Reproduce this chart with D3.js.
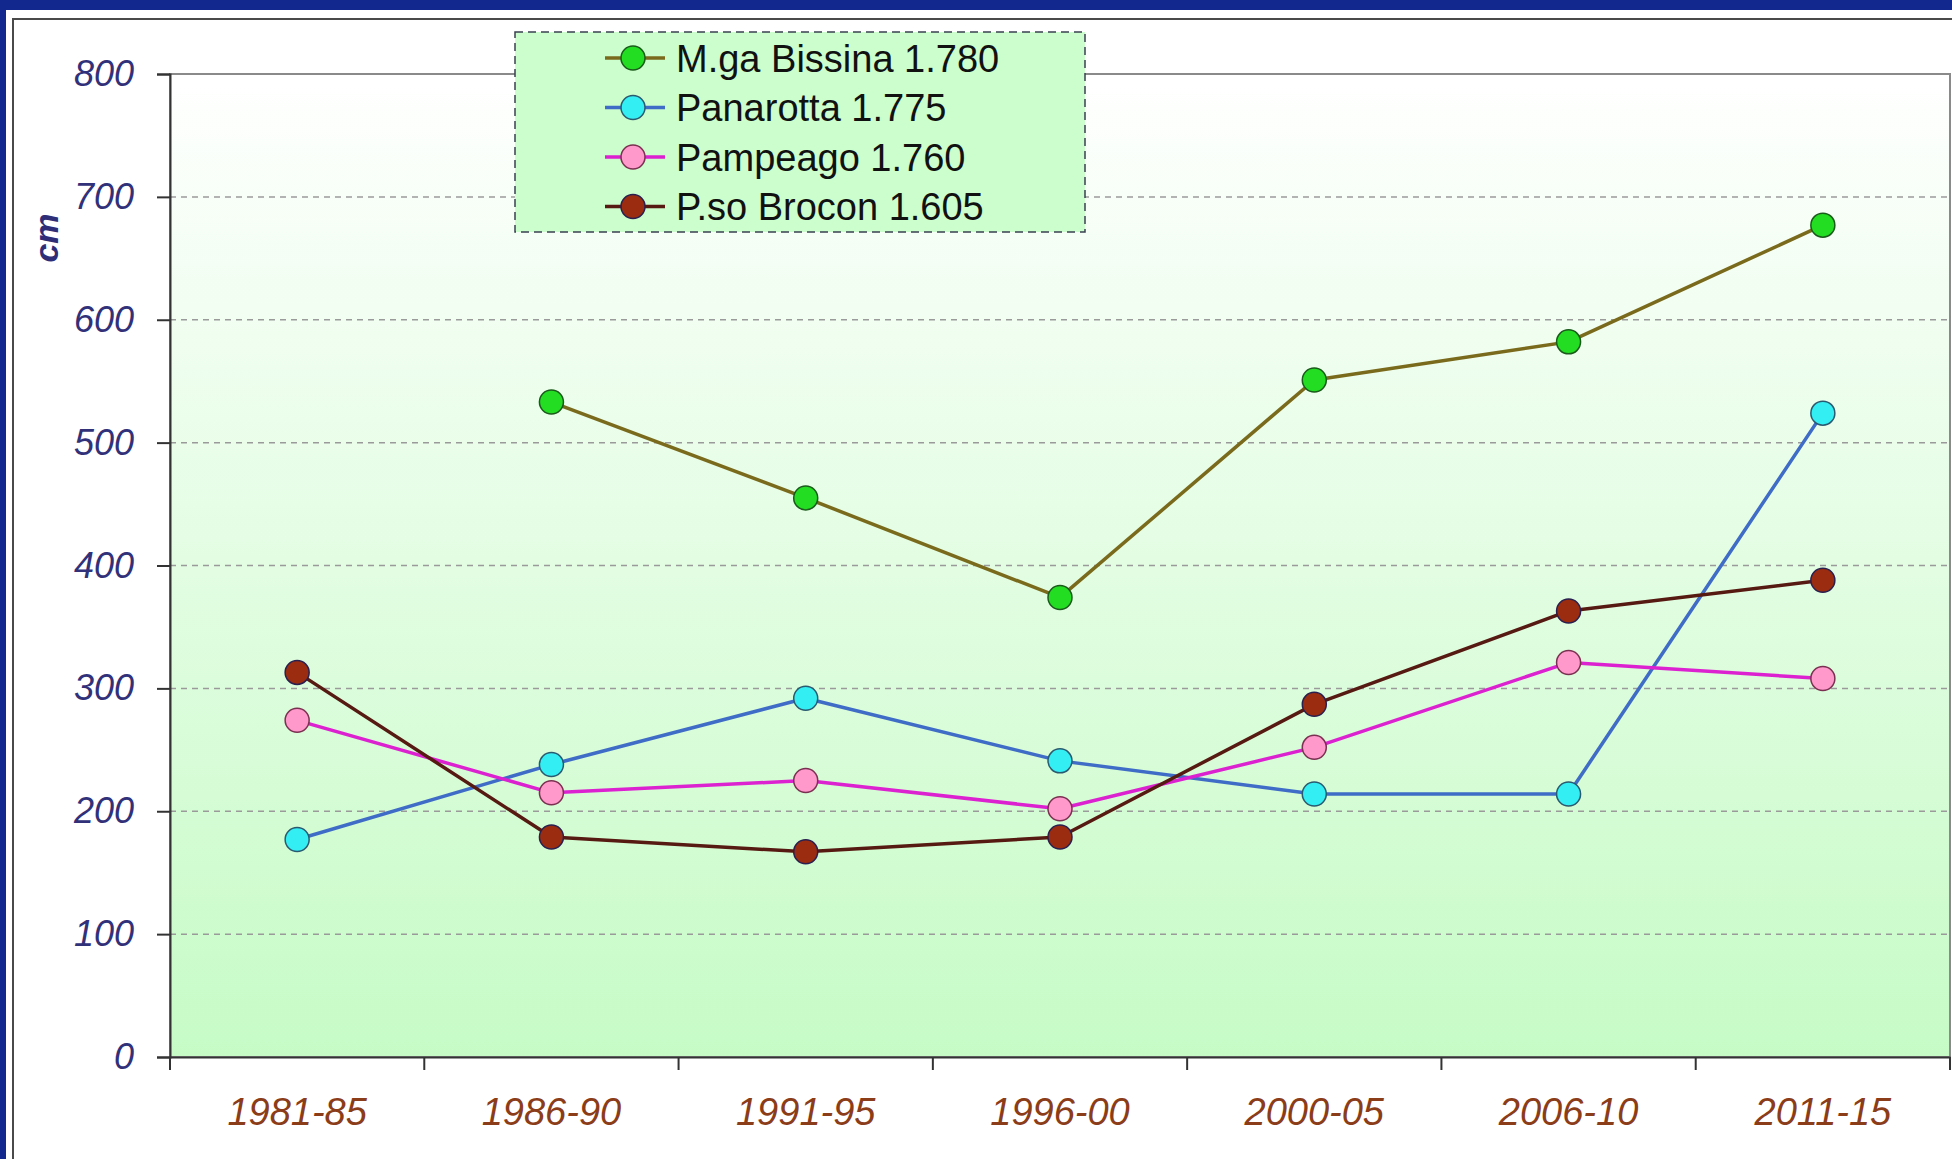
<!DOCTYPE html>
<html>
<head>
<meta charset="utf-8">
<script src="https://cdn.jsdelivr.net/npm/d3@7"></script>
<style>
  html, body { margin: 0; padding: 0; background: #ffffff; }
  svg { display: block; }
</style>
</head>
<body>
<div id="graphic"></div>
<script>
'use strict';

const periods = ['1981-85', '1986-90', '1991-95', '1996-00', '2000-05', '2006-10', '2011-15'];
const seriesNames = ['M.ga Bissina 1.780', 'Panarotta 1.775', 'Pampeago 1.760', 'P.so Brocon 1.605'];
const bissina = [null, 533, 455, 374, 551, 582, 677];
const panarotta = [177, 238, 292, 241, 214, 214, 524];
const pampeago = [274, 215, 225, 202, 252, 321, 308];
const brocon = [313, 179, 167, 179, 287, 363, 388];
const yTicks = [0, 100, 200, 300, 400, 500, 600, 700, 800];

const lineColors = ['#7a6a1c', '#3f6cc6', '#dc22d0', '#561a12'];
const markerColors = ['#22dd22', '#33eef2', '#ff99cc', '#9b2c10'];
const markerStrokes = ['#1a5a1a', '#2a5a70', '#7a3050', '#2a2050'];

const width = 1952;
const height = 1159;
const margin = { left: 170, right: 2, top: 74, bottom: 102 };

const svg = d3
  .select('#graphic')
  .append('svg')
  .attr('width', width)
  .attr('height', height)
  .attr('font-family', 'Liberation Sans, Arial, sans-serif');

// blue slide border + chart frame
svg.append('rect').attr('x', 0).attr('y', 0).attr('width', width).attr('height', 10).attr('fill', '#13288e');
svg.append('rect').attr('x', 0).attr('y', 0).attr('width', 6).attr('height', height).attr('fill', '#13288e');
svg
  .append('path')
  .attr('d', `M13,${height}V19H${width}`)
  .attr('fill', 'none')
  .attr('stroke', '#4a4a4a')
  .attr('stroke-width', 2);

const x = d3.scaleBand().domain(periods).range([margin.left, width - margin.right]).padding(0);
const y = d3.scaleLinear().domain([0, 800]).range([height - margin.bottom, margin.top]);

const defs = svg.append('defs');
const grad = defs
  .append('linearGradient')
  .attr('id', 'plotBg')
  .attr('x1', 0)
  .attr('y1', 0)
  .attr('x2', 0)
  .attr('y2', 1);
grad.append('stop').attr('offset', '0%').attr('stop-color', '#ffffff');
grad.append('stop').attr('offset', '100%').attr('stop-color', '#c6fbc6');

// plot area
svg
  .append('rect')
  .attr('x', x.range()[0])
  .attr('y', y(800))
  .attr('width', x.range()[1] - x.range()[0])
  .attr('height', y(0) - y(800))
  .attr('fill', 'url(#plotBg)')
  .attr('stroke', '#8a8a8a')
  .attr('stroke-width', 2);

// gridlines
svg
  .append('g')
  .selectAll('line')
  .data(yTicks.filter((d) => d > 0 && d < 800))
  .join('line')
  .attr('x1', x.range()[0])
  .attr('x2', x.range()[1])
  .attr('y1', (d) => y(d))
  .attr('y2', (d) => y(d))
  .attr('stroke', '#9a9a9a')
  .attr('stroke-width', 1.5)
  .attr('stroke-dasharray', '6,5');

// y axis
const yAxis = svg
  .append('g')
  .attr('transform', `translate(${x.range()[0]},0)`)
  .call(d3.axisLeft(y).tickValues(yTicks).tickSize(13).tickPadding(23));
yAxis.select('.domain').attr('stroke', '#333333').attr('stroke-width', 2);
yAxis.selectAll('.tick line').attr('stroke', '#333333').attr('stroke-width', 2);
yAxis
  .selectAll('.tick text')
  .attr('fill', '#31317a')
  .attr('font-size', 36)
  .attr('font-style', 'italic')
  .attr('font-family', 'Liberation Sans, Arial, sans-serif');

// x axis: labels at band centres, ticks at band edges
const xAxis = svg
  .append('g')
  .attr('transform', `translate(0,${y(0)})`)
  .call(d3.axisBottom(x).tickSize(0).tickPadding(41));
xAxis.select('.domain').attr('stroke', '#333333').attr('stroke-width', 2);
xAxis
  .selectAll('.tick text')
  .attr('fill', '#8b3c18')
  .attr('font-size', 38)
  .attr('font-style', 'italic')
  .attr('font-family', 'Liberation Sans, Arial, sans-serif');
xAxis
  .append('g')
  .selectAll('line')
  .data(periods.map((p) => x(p)).concat([x.range()[1]]))
  .join('line')
  .attr('x1', (d) => d)
  .attr('x2', (d) => d)
  .attr('y1', 0)
  .attr('y2', 13)
  .attr('stroke', '#333333')
  .attr('stroke-width', 2);

// y title
svg
  .append('text')
  .attr('transform', `translate(58,238) rotate(-90)`)
  .attr('text-anchor', 'middle')
  .attr('font-size', 34)
  .attr('font-weight', 'bold')
  .attr('font-style', 'italic')
  .attr('fill', '#2e2e78')
  .text('cm');

// series
const allSeries = [bissina, panarotta, pampeago, brocon];
const cx = (i) => x(periods[i]) + x.bandwidth() / 2;

const line = d3
  .line()
  .defined((d) => d !== null)
  .x((d, i) => cx(i))
  .y((d) => y(d));

allSeries.forEach((values, s) => {
  const g = svg.append('g');
  g.append('path')
    .attr('d', line(values))
    .attr('fill', 'none')
    .attr('stroke', lineColors[s])
    .attr('stroke-width', 3.5)
    .attr('stroke-linejoin', 'round');
  g.selectAll('circle')
    .data(values.map((v, i) => ({ v, i })).filter((d) => d.v !== null))
    .join('circle')
    .attr('cx', (d) => cx(d.i))
    .attr('cy', (d) => y(d.v))
    .attr('r', 12)
    .attr('fill', markerColors[s])
    .attr('stroke', markerStrokes[s])
    .attr('stroke-width', 1.5);
});

// legend
const legend = svg.append('g');
legend
  .append('rect')
  .attr('x', 515)
  .attr('y', 32)
  .attr('width', 570)
  .attr('height', 200)
  .attr('fill', '#ccfdcc')
  .attr('stroke', '#3a4050')
  .attr('stroke-width', 1.5)
  .attr('stroke-dasharray', '8,5');

const rows = legend
  .selectAll('g.row')
  .data(seriesNames)
  .join('g')
  .attr('class', 'row')
  .attr('transform', (d, i) => `translate(0,${58 + i * 49.5})`);
rows
  .append('line')
  .attr('x1', 605)
  .attr('x2', 665)
  .attr('stroke', (d, i) => lineColors[i])
  .attr('stroke-width', 3.5);
rows
  .append('circle')
  .attr('cx', 633)
  .attr('r', 12)
  .attr('fill', (d, i) => markerColors[i])
  .attr('stroke', (d, i) => markerStrokes[i])
  .attr('stroke-width', 1.5);
rows
  .append('text')
  .attr('x', 676)
  .attr('dy', '0.36em')
  .attr('font-size', 38)
  .attr('fill', '#111111')
  .text((d) => d);
</script>
</body>
</html>
